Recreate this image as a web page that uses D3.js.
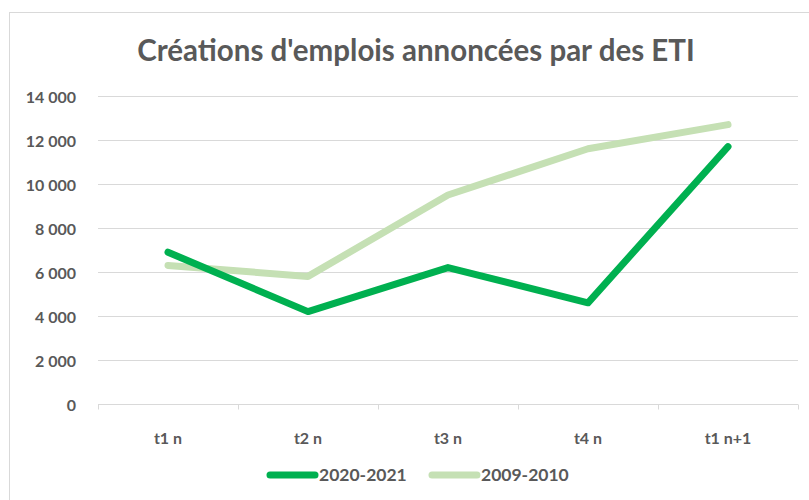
<!DOCTYPE html>
<html>
<head>
<meta charset="utf-8">
<script src="https://cdn.jsdelivr.net/npm/d3@7"></script>
<style>
  body { margin: 0; background: #fff; }
  text { font-family: "Lato", "Open Sans", sans-serif; fill: #595959; }
</style>
</head>
<body>
<div id="chart"></div>
<script>
// données
const categories = ["t1 n", "t2 n", "t3 n", "t4 n", "t1 n+1"];
const serie2020 = [6900, 4200, 6200, 4600, 11700];
const serie2009 = [6300, 5800, 9500, 11600, 12700];
const yTicks = [0, 2000, 4000, 6000, 8000, 10000, 12000, 14000];
const seriesNames = ["2020-2021", "2009-2010"];

var width = 809,
  height = 500,
  margin = { top: 96, right: 11, bottom: 96, left: 98 };

var svg = d3
  .select("#chart")
  .append("svg")
  .attr("width", width)
  .attr("height", height);

// cadre du graphique
svg
  .append("rect")
  .attr("x", 9.5)
  .attr("y", 12.5)
  .attr("width", width)
  .attr("height", height)
  .attr("fill", "none")
  .attr("stroke", "#d9d9d9");

svg
  .append("text")
  .attr("x", 416)
  .attr("y", 61)
  .attr("text-anchor", "middle")
  .attr("font-size", 29.5)
  .attr("font-weight", "bold")
  .text("Créations d'emplois annoncées par des ETI");

var x = d3
  .scaleBand()
  .domain(categories)
  .range([margin.left, width - margin.right]);

var y = d3
  .scaleLinear()
  .domain([0, 14000])
  .range([height - margin.bottom - 0, margin.top]);

// grille horizontale
svg
  .append("g")
  .selectAll("line")
  .data(yTicks.slice(1))
  .join("line")
  .attr("x1", margin.left)
  .attr("x2", width - margin.right)
  .attr("y1", (d) => Math.round(y(d)) + 0.5)
  .attr("y2", (d) => Math.round(y(d)) + 0.5)
  .attr("stroke", "#d9d9d9");

// axe Y
var fmt = (d) => d3.format(",")(d).replace(/,/g, " ");
var yAxis = svg
  .append("g")
  .attr("transform", "translate(" + (margin.left - 19) + ",0.5)")
  .call(d3.axisLeft(y).tickValues(yTicks).tickSize(0).tickFormat(fmt));
yAxis.select(".domain").remove();
yAxis
  .selectAll("text")
  .attr("font-size", 16)
  .attr("font-weight", "bold")
  .attr("dy", "0.35em");

// axe X
var xAxis = svg
  .append("g")
  .attr("transform", "translate(0," + (Math.round(y(0)) + 0.5) + ")")
  .call(
    d3
      .axisBottom(x)
      .tickSize(0)
  );
xAxis.select(".domain").remove();
xAxis
  .selectAll("text")
  .attr("font-size", 16)
  .attr("font-weight", "bold")
  .attr("y", 28);
xAxis
  .append("line")
  .attr("x1", margin.left)
  .attr("x2", width - margin.right)
  .attr("stroke", "#d9d9d9");
xAxis
  .selectAll(".sep")
  .data(categories.concat(["end"]))
  .join("line")
  .attr("class", "sep")
  .attr("x1", (d, i) => Math.round(margin.left + i * x.bandwidth()) + 0.5)
  .attr("x2", (d, i) => Math.round(margin.left + i * x.bandwidth()) + 0.5)
  .attr("y1", 0)
  .attr("y2", 5)
  .attr("stroke", "#d9d9d9");

var line = d3
  .line()
  .x((d, i) => x(categories[i]) + x.bandwidth() / 2)
  .y((d) => y(d));

svg
  .append("path")
  .datum(serie2009)
  .attr("fill", "none")
  .attr("stroke", "#c5e0b4")
  .attr("stroke-width", 7)
  .attr("stroke-linecap", "round")
  .attr("stroke-linejoin", "round")
  .attr("d", line);

svg
  .append("path")
  .datum(serie2020)
  .attr("fill", "none")
  .attr("stroke", "#00b050")
  .attr("stroke-width", 7)
  .attr("stroke-linecap", "round")
  .attr("stroke-linejoin", "round")
  .attr("d", line);

// légende
var legend = svg.append("g").attr("transform", "translate(0,475)");
var legendX = [270, 432];
var colors = ["#00b050", "#c5e0b4"];
seriesNames.forEach((name, i) => {
  legend
    .append("line")
    .attr("x1", legendX[i])
    .attr("x2", legendX[i] + 45)
    .attr("y1", 0)
    .attr("y2", 0)
    .attr("stroke", colors[i])
    .attr("stroke-width", 7)
    .attr("stroke-linecap", "round");
  legend
    .append("text")
    .attr("x", legendX[i] + 49)
    .attr("y", 0)
    .attr("dy", "0.35em")
    .attr("font-size", 17.5)
    .attr("font-weight", "bold")
    .text(name);
});
</script>
</body>
</html>
